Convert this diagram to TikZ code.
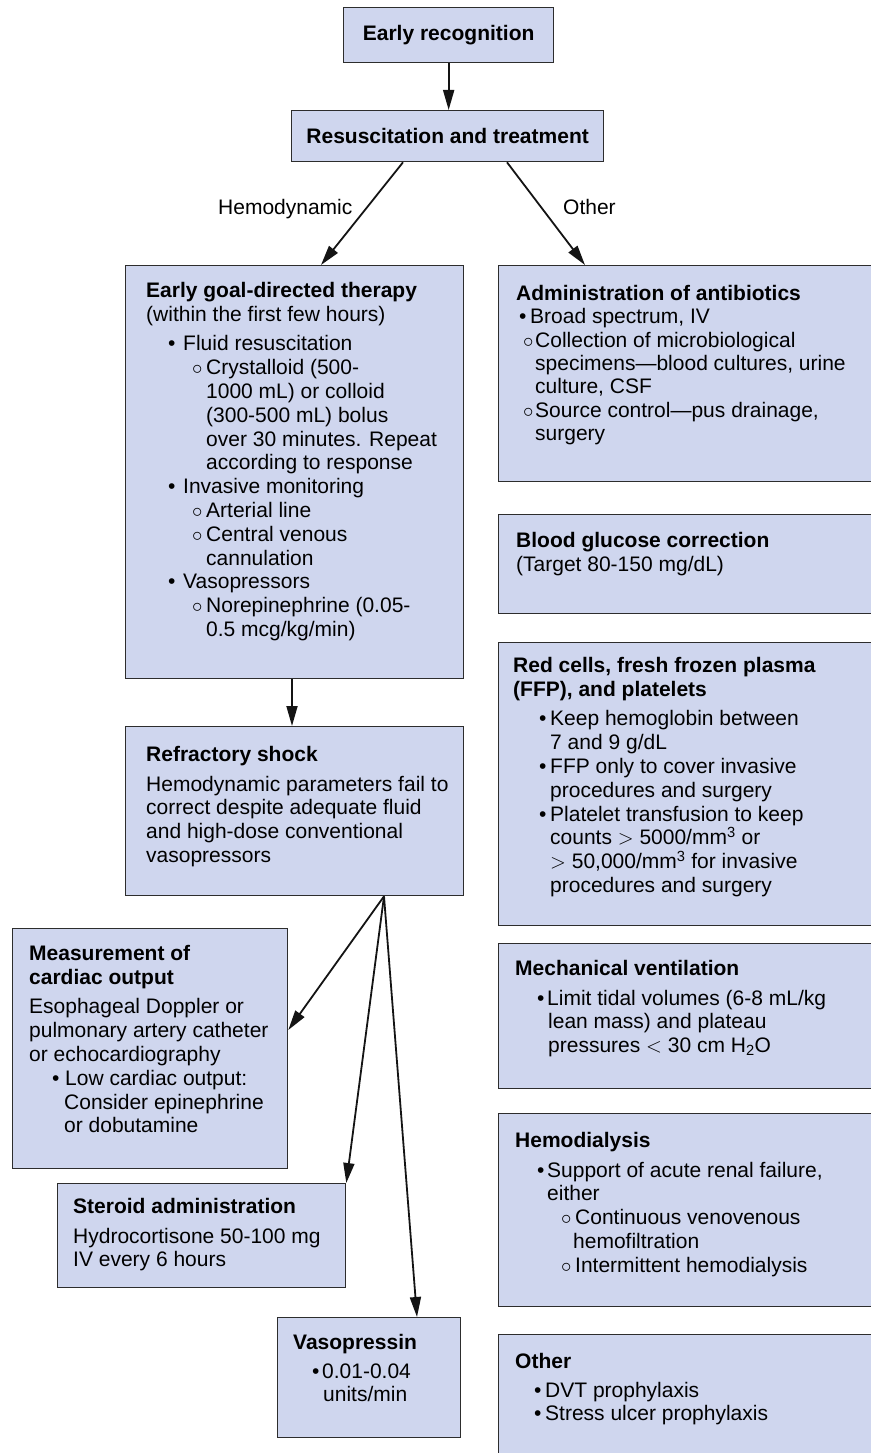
\documentclass[tikz,border=0pt]{standalone}
\usepackage{fontspec}
\setmainfont{Liberation Sans}
\usetikzlibrary{arrows.meta,calc}

\definecolor{boxfill}{RGB}{207,214,238}
\definecolor{boxline}{RGB}{45,45,45}

% list helpers: bullet / open circle at an offset, then the item text
\newcommand\bl[2]{\hspace*{#1pt}\makebox[#2pt][l]{\textbullet}}
\newcommand\ci[2]{\hspace*{#1pt}\makebox[#2pt][l]{$\circ$}}
\newcommand\ind[1]{\hspace*{#1pt}}
\newcommand\topstrut{\rule{0pt}{16pt}}

\tikzset{
  box/.style={draw=boxline, fill=boxfill, line width=1.3pt, inner sep=0pt, anchor=north west},
  body/.style={anchor=north west, inner sep=0pt, align=left, font=\fontsize{21}{23.8}\selectfont},
  head/.style={font=\fontsize{21}{23.8}\selectfont\bfseries},
  lbl/.style={anchor=base west, inner sep=0pt, font=\fontsize{21}{23.8}\selectfont},
  flow/.style={draw=black!92, line width=1.8pt, -{Triangle[length=20pt,width=11pt]}},
}

\begin{document}
\begin{tikzpicture}[x=1pt,y=-1pt]
\useasboundingbox (0,0) rectangle (870,1453);

% ---- top of the chart
\node[box, head, minimum width=210pt, minimum height=55pt] (early) at (343,7) {Early recognition};
\node[box, head, minimum width=312pt, minimum height=51pt] (resus) at (291,110) {Resuscitation and treatment};

% ---- left column boxes
\node[box, minimum width=338pt, minimum height=413pt] (egdt) at (125,265) {};
\node[box, minimum width=338pt, minimum height=169pt] (refr) at (125,726) {};
\node[box, minimum width=275pt, minimum height=240pt] (meas) at (12,928) {};
\node[box, minimum width=288pt, minimum height=104pt] (ster) at (57,1183) {};
\node[box, minimum width=183pt, minimum height=120pt] (vaso) at (277,1317) {};

% ---- right column boxes (run off the right edge)
\node[box, minimum width=380pt, minimum height=216pt] (abx) at (498,265) {};
\node[box, minimum width=380pt, minimum height=99pt] (gluc) at (498,514) {};
\node[box, minimum width=380pt, minimum height=283pt] (blood) at (498,642) {};
\node[box, minimum width=380pt, minimum height=145pt] (mech) at (498,943) {};
\node[box, minimum width=380pt, minimum height=193pt] (hemo) at (498,1113) {};
\node[box, minimum width=380pt, minimum height=140pt] (other) at (498,1334) {};

% ---- branch labels
\node[lbl] (lhemo) at (218,214) {Hemodynamic};
\node[lbl] (lother) at (563,214) {Other};

% ---- box texts
\node[body] (tegdt) at (146,281) {\topstrut\textbf{Early goal-directed therapy}\\
(within the first few hours)\\[6pt]
\bl{22}{15}Fluid resuscitation\\
\ci{46}{14}Crystalloid (500-\\
\ind{60}1000 mL) or colloid\\
\ind{60}(300-500 mL) bolus\\
\ind{60}over 30 minutes. Repeat\\
\ind{60}according to response\\
\bl{22}{15}Invasive monitoring\\
\ci{46}{14}Arterial line\\
\ci{46}{14}Central venous\\
\ind{60}cannulation\\
\bl{22}{15}Vasopressors\\
\ci{46}{14}Norepinephrine (0.05-\\
\ind{60}0.5 mcg/kg/min)};

\node[body] (trefr) at (146,745) {\topstrut\textbf{Refractory shock}\\[6pt]
Hemodynamic parameters fail to\\
correct despite adequate fluid\\
and high-dose conventional\\
vasopressors};

\node[body] (tmeas) at (29,944) {\topstrut\textbf{Measurement of}\\
\textbf{cardiac output}\\[6pt]
Esophageal Doppler or\\
pulmonary artery catheter\\
or echocardiography\\
\bl{23}{13}Low cardiac output:\\
\ind{35}Consider epinephrine\\
\ind{35}or dobutamine};

\node[body] (tster) at (73,1197) {\topstrut\textbf{Steroid administration}\\[6pt]
Hydrocortisone 50-100 mg\\
IV every 6 hours};

\node[body] (tvaso) at (293,1333) {\topstrut\textbf{Vasopressin}\\[5pt]
\bl{19}{10}0.01-0.04\\
\ind{30}units/min};

\node[body, font=\fontsize{21}{23.4}\selectfont] (tabx) at (516,284) {\topstrut\textbf{Administration of antibiotics}\\
\bl{3}{11}Broad spectrum, IV\\
\ci{7}{12}Collection of microbiological\\
\ind{19}specimens—blood cultures, urine\\
\ind{19}culture, CSF\\
\ci{7}{12}Source control—pus drainage,\\
\ind{19}surgery};

\node[body] (tgluc) at (516,531) {\topstrut\textbf{Blood glucose correction}\\
(Target 80-150 mg/dL)};

\node[body] (tblood) at (513,656) {\topstrut\textbf{Red cells, fresh frozen plasma}\\
\textbf{(FFP), and platelets}\\[6pt]
\bl{26}{11}Keep hemoglobin between\\
\ind{37}7 and 9 g/dL\\
\bl{26}{11}FFP only to cover invasive\\
\ind{37}procedures and surgery\\
\bl{26}{11}Platelet transfusion to keep\\
\ind{37}counts $>$ 5000/mm\textsuperscript{3} or\\
\ind{37}$>$ 50,000/mm\textsuperscript{3} for invasive\\
\ind{37}procedures and surgery};

\node[body] (tmech) at (515,959) {\topstrut\textbf{Mechanical ventilation}\\[6pt]
\bl{22}{10}Limit tidal volumes (6-8 mL/kg\\
\ind{33}lean mass) and plateau\\
\ind{33}pressures $<$ 30 cm H\textsubscript{2}O};

\node[body] (themo) at (515,1131) {\topstrut\textbf{Hemodialysis}\\[6pt]
\bl{22}{10}Support of acute renal failure,\\
\ind{32}either\\
\ci{46}{14}Continuous venovenous\\
\ind{58}hemofiltration\\
\ci{46}{14}Intermittent hemodialysis};

\node[body] (tother) at (515,1352) {\topstrut\textbf{Other}\\[5pt]
\bl{19}{11}DVT prophylaxis\\
\bl{19}{11}Stress ulcer prophylaxis};

% ---- connectors
\draw[flow] (early.south) -- (resus.north -| early.south);
\draw[flow] ($(resus.south west)+(112,0)$) -- ($(egdt.north west)+(196,0)$);
\draw[flow] ($(resus.south west)+(216,0)$) -- ($(abx.north west)+(87,0)$);
\draw[flow] ($(egdt.south west)+(167,0)$) -- ($(refr.north west)+(167,0)$);
\coordinate (fan) at ($(refr.south west)+(259,0)$);
\draw[flow] (fan) -- ($(meas.north east)+(0,102)$);
\draw[flow] (fan) -- (ster.north east);
\draw[flow] (fan) -- ($(vaso.north west)+(140,0)$);
\end{tikzpicture}
\end{document}
